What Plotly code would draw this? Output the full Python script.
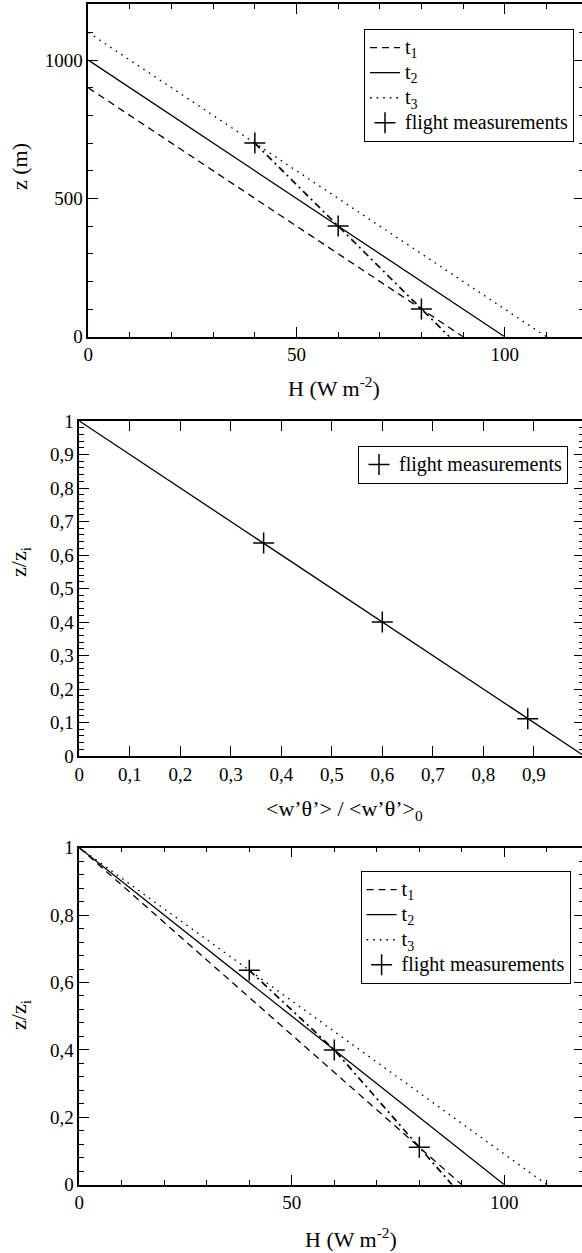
import plotly.graph_objects as go

# ---------------- data ----------------
# Panel 1 : H (W m-2) vs z (m)
t1_H = [0, 90];   t1_z = [900, 0]
t2_H = [0, 100];  t2_z = [1000, 0]
t3_H = [0, 110];  t3_z = [1100, 0]
meas_H = [40, 60, 80]
meas_z = [700, 400, 100]
fit_H = [40, 60, 80, 86.7]
fit_z = [700, 400, 100, 0]

# Panel 2 : normalised flux vs z/zi
flux_line = [0, 1]
zn_line = [1, 0]
meas_flux = [0.365, 0.6, 0.888]
meas_zn = [0.636, 0.4, 0.111]

# Panel 3 : H (W m-2) vs z/zi
t1n_H = [0, 90];  t1n_z = [1, 0]
t2n_H = [0, 100]; t2n_z = [1, 0]
t3n_H = [0, 110]; t3n_z = [1, 0]
measn_H = [40, 60, 80]
measn_z = [0.636, 0.4, 0.111]
fitn_H = [40, 60, 80, 87.7]
fitn_z = [0.636, 0.4, 0.111, 0]

# tick labels
p1_xticks = [0, 50, 100];            p1_xlabels = ["0", "50", "100"]
p1_yticks = [0, 500, 1000];          p1_ylabels = ["0", "500", "1000"]
p2_xticks = [0, 0.1, 0.2, 0.3, 0.4, 0.5, 0.6, 0.7, 0.8, 0.9]
p2_xlabels = ["0", "0,1", "0,2", "0,3", "0,4", "0,5", "0,6", "0,7", "0,8", "0,9"]
p2_yticks = [0, 0.1, 0.2, 0.3, 0.4, 0.5, 0.6, 0.7, 0.8, 0.9, 1]
p2_ylabels = ["0", "0,1", "0,2", "0,3", "0,4", "0,5", "0,6", "0,7", "0,8", "0,9", "1"]
p3_xticks = [0, 50, 100];            p3_xlabels = ["0", "50", "100"]
p3_yticks = [0, 0.2, 0.4, 0.6, 0.8, 1]
p3_ylabels = ["0", "0,2", "0,4", "0,6", "0,8", "1"]

# ---------------- layout helpers ----------------
W, H = 584, 1253          # 2 px wider than the window: right frame edge falls just outside
FONT = "Liberation Serif"


def ydom(top_px, bottom_px):
    return [1 - bottom_px / H, 1 - top_px / H]


def axis_style(**kw):
    d = dict(showline=True, linecolor="black", linewidth=1.5, mirror="ticks",
             ticks="inside", ticklen=10, tickwidth=1.2, tickcolor="black",
             showgrid=False, zeroline=False, tickmode="array", automargin=False,
             tickfont=dict(family=FONT, size=19, color="black"))
    d.update(kw)
    return d


def minor(dt):
    return dict(tickmode="linear", tick0=0, dtick=dt, ticks="inside", ticklen=5,
                tickwidth=1.1, tickcolor="black", showgrid=False)


def lname(s):
    return "<span style='font-size:20px'>" + s + "</span>"


fig = go.Figure()

BLACK = "black"
LW = 1.3
DASH = "7px,5px"
DOT = "1.6px,5px"
DASHDOT = "7px,4px,2px,4px"
CROSS = dict(symbol="cross-thin", size=15, color=BLACK, line=dict(width=1.5, color=BLACK))

# ---- panel 1 ----
fig.add_trace(go.Scatter(x=t1_H, y=t1_z, mode="lines", name=lname("t<sub>1</sub>"),
                         line=dict(color=BLACK, width=LW, dash=DASH),
                         xaxis="x", yaxis="y", legend="legend"))
fig.add_trace(go.Scatter(x=t2_H, y=t2_z, mode="lines", name=lname("t<sub>2</sub>"),
                         line=dict(color=BLACK, width=LW),
                         xaxis="x", yaxis="y", legend="legend"))
fig.add_trace(go.Scatter(x=t3_H, y=t3_z, mode="lines", name=lname("t<sub>3</sub>"),
                         line=dict(color=BLACK, width=LW, dash=DOT),
                         xaxis="x", yaxis="y", legend="legend"))
fig.add_trace(go.Scatter(x=fit_H, y=fit_z, mode="lines", showlegend=False,
                         line=dict(color=BLACK, width=LW + 0.4, dash=DASHDOT),
                         xaxis="x", yaxis="y"))
fig.add_trace(go.Scatter(x=meas_H, y=meas_z, mode="markers", name=lname("flight measurements"),
                         marker=CROSS, xaxis="x", yaxis="y", legend="legend"))

# ---- panel 2 ----
fig.add_trace(go.Scatter(x=flux_line, y=zn_line, mode="lines", showlegend=False,
                         line=dict(color=BLACK, width=LW),
                         xaxis="x2", yaxis="y2"))
fig.add_trace(go.Scatter(x=meas_flux, y=meas_zn, mode="markers", name=lname("flight measurements"),
                         marker=CROSS, xaxis="x2", yaxis="y2", legend="legend2"))

# ---- panel 3 ----
fig.add_trace(go.Scatter(x=t1n_H, y=t1n_z, mode="lines", name=lname("t<sub>1</sub>"),
                         line=dict(color=BLACK, width=LW, dash=DASH),
                         xaxis="x3", yaxis="y3", legend="legend3"))
fig.add_trace(go.Scatter(x=t2n_H, y=t2n_z, mode="lines", name=lname("t<sub>2</sub>"),
                         line=dict(color=BLACK, width=LW),
                         xaxis="x3", yaxis="y3", legend="legend3"))
fig.add_trace(go.Scatter(x=t3n_H, y=t3n_z, mode="lines", name=lname("t<sub>3</sub>"),
                         line=dict(color=BLACK, width=LW, dash=DOT),
                         xaxis="x3", yaxis="y3", legend="legend3"))
fig.add_trace(go.Scatter(x=fitn_H, y=fitn_z, mode="lines", showlegend=False,
                         line=dict(color=BLACK, width=LW + 0.4, dash=DASHDOT),
                         xaxis="x3", yaxis="y3"))
fig.add_trace(go.Scatter(x=measn_H, y=measn_z, mode="markers", name=lname("flight measurements"),
                         marker=CROSS, xaxis="x3", yaxis="y3", legend="legend3"))

legend_common = dict(bgcolor="white", bordercolor="black", borderwidth=1,
                     font=dict(family=FONT, size=17, color="black"),
                     xanchor="left", yanchor="top", tracegroupgap=0,
                     itemwidth=30, itemclick=False)

fig.update_layout(
    width=W, height=H,
    margin=dict(l=0, r=0, t=0, b=0, autoexpand=False),
    paper_bgcolor="white", plot_bgcolor="white",
    font=dict(family=FONT, size=19, color="black"),
    xaxis=axis_style(domain=[88.3 / W, 1], range=[0, 119.05], anchor="y",
                     tickvals=p1_xticks, ticktext=p1_xlabels, minor=minor(10)),
    yaxis=axis_style(domain=ydom(4, 336.7), range=[0, 1203], anchor="x",
                     tickvals=p1_yticks, ticktext=p1_ylabels, minor=minor(100)),
    xaxis2=axis_style(domain=[79.3 / W, 1], range=[0, 0.9994], anchor="y2",
                      tickvals=p2_xticks, ticktext=p2_xlabels),
    yaxis2=axis_style(domain=ydom(421, 756), range=[0, 1], anchor="x2",
                      tickvals=p2_yticks, ticktext=p2_ylabels, minor=minor(0.02)),
    xaxis3=axis_style(domain=[79.3 / W, 1], range=[0, 118.75], anchor="y3",
                      tickvals=p3_xticks, ticktext=p3_xlabels, minor=minor(10)),
    yaxis3=axis_style(domain=ydom(847.7, 1184.7), range=[0, 1], anchor="x3",
                      tickvals=p3_yticks, ticktext=p3_ylabels, minor=minor(0.04)),
    legend=dict(x=364 / W, y=1 - 29 / H, **legend_common),
    legend2=dict(x=358 / W, y=1 - 446 / H, **legend_common),
    legend3=dict(x=360.6 / W, y=1 - 871 / H, **legend_common),
    showlegend=True,
)


# axis titles placed as annotations (paper coordinates)
def title(text, xpx, ypx, angle=0):
    fig.add_annotation(text=text, x=xpx / W, y=1 - ypx / H, xref="paper", yref="paper",
                       showarrow=False, textangle=angle, xanchor="center", yanchor="middle",
                       font=dict(family=FONT, size=22, color="black"))


title("z (m)", 20, 167, -90)
title("H (W m<sup>-2</sup>)", 334, 387)
title("z/z<sub>i</sub>", 20, 562, -90)
title("&lt;w’θ’&gt; / &lt;w’θ’&gt;<sub>0</sub>", 344, 810)
title("z/z<sub>i</sub>", 20, 1015, -90)
title("H (W m<sup>-2</sup>)", 351, 1238)

fig.write_html("out.html", config={"displayModeBar": False},
               post_script="document.body.style.margin='0px';"
                           "document.body.style.overflow='hidden';")
